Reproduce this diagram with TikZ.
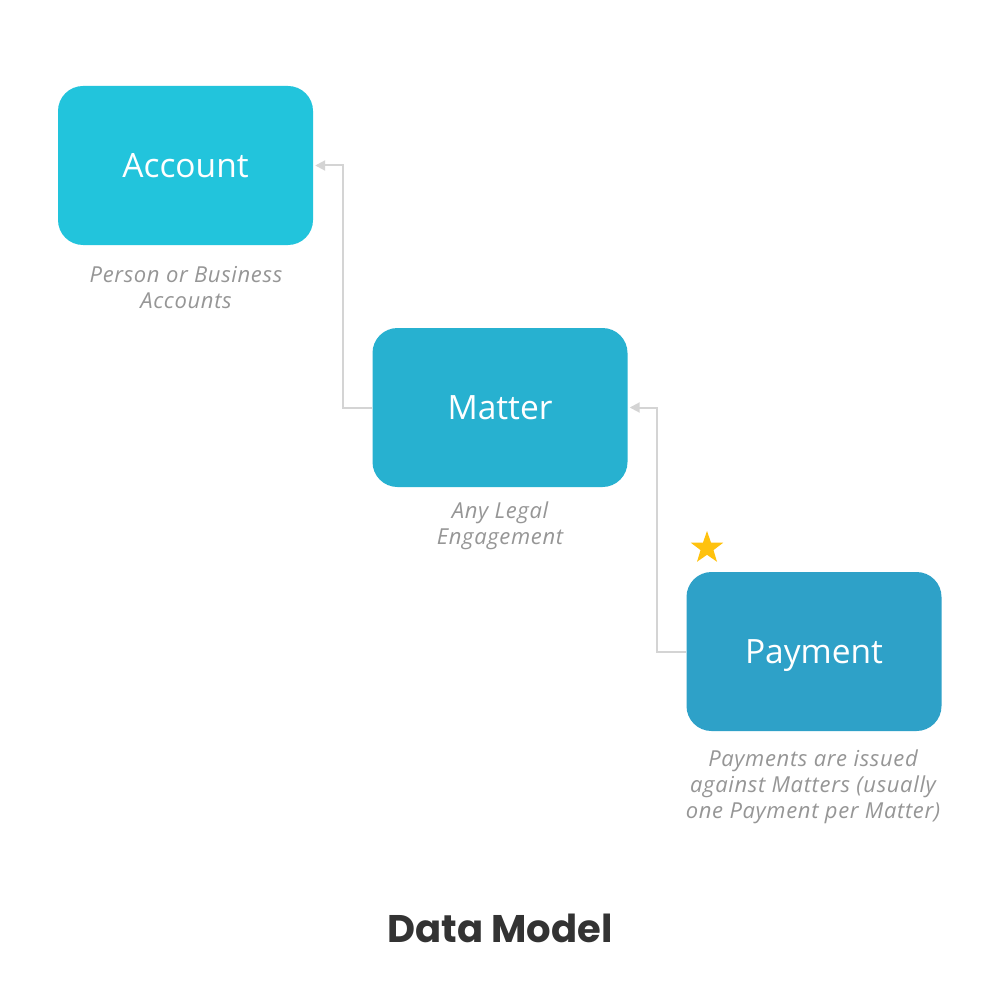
\documentclass[tikz,border=0pt]{standalone}
\usepackage{fontspec}
\setmainfont{Open Sans}
\newfontfamily\titlefont{Poppins}
\newfontfamily\capfont[LetterSpace=3]{Open Sans}
\usetikzlibrary{arrows.meta,shapes.geometric}
\definecolor{cAccount}{RGB}{34,196,220}
\definecolor{cMatter}{RGB}{39,177,208}
\definecolor{cPayment}{RGB}{46,161,200}
\definecolor{cLine}{RGB}{212,212,212}
\definecolor{cCap}{RGB}{150,150,150}
\definecolor{cStar}{RGB}{255,194,14}
\definecolor{cTitle}{RGB}{51,51,51}
\tikzset{
  entity/.style={rounded corners=25pt, minimum width=255pt, minimum height=159pt,
    text=white, font=\fontsize{33.5}{40}\selectfont, inner sep=0pt,
    text height=24pt, text depth=0pt},
  caption/.style={text=cCap, font=\capfont\fontsize{22}{26}\selectfont\itshape, align=center, inner sep=0pt},
  link/.style={draw=cLine, line width=2pt, shorten >=2pt, -{Triangle[length=10pt,width=10pt]}},
}
\begin{document}
\begin{tikzpicture}[x=1pt,y=-1pt]
\useasboundingbox[fill=white] (0,0) rectangle (1000,1000);
\node[entity, fill=cAccount] (acc) at (185.5,165.5) {Account};
\node[entity, fill=cMatter] (mat) at (500,407.5) {Matter};
\node[entity, fill=cPayment] (pay) at (814,651.5) {Payment};
\node[caption] (acccap) at (186,288) {Person or Business\\Accounts};
\node[caption] (matcap) at (500,526) {Any Legal\\Engagement};
\node[caption] (paycap) at (813,787) {Payments are issued\\against Matters (usually\\one Payment per Matter)};
\node[star, star points=5, star point ratio=2.5, fill=cStar, minimum size=34pt, inner sep=0pt] (star) at (707,548) {};
\coordinate (j1) at (343,407.5);
\coordinate (j2) at (343,165.5);
\coordinate (j3) at (657,651.5);
\coordinate (j4) at (657,407.5);
\draw[link] (mat.west) -- (j1) -- (j2) -- (acc.east);
\draw[link] (pay.west) -- (j3) -- (j4) -- (mat.east);
\node[text=cTitle, font=\titlefont\bfseries\fontsize{38.5}{42}\selectfont, inner sep=0pt] (title) at (500,928) {Data Model};
\end{tikzpicture}
\end{document}
